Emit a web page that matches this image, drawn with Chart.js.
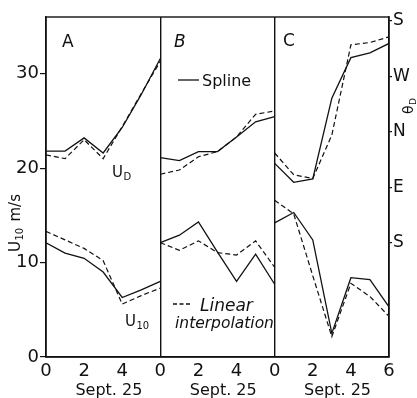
<!DOCTYPE html>
<html><head><meta charset="utf-8">
<script src="https://cdn.jsdelivr.net/npm/chart.js@4/dist/chart.umd.min.js"></script>
<style>html,body{margin:0;padding:0;background:#fff}canvas{display:block}</style>
</head><body><canvas id="c" width="417" height="398"></canvas>
<script>
// ---- data (days 0..6 within each panel) ----
const days = [0, 1, 2, 3, 4, 5, 6];
const panels = ['A', 'B', 'C'];

const udSplineA = [21.8, 21.8, 23.2, 21.6, 24.3, 27.8, 31.6];
const udLinearA = [21.4, 21.0, 23.0, 21.0, 24.4, 27.9, 31.3];
const u10SplineA = [12.1, 11.0, 10.45, 9.0, 6.3, 7.1, 8.0];
const u10LinearA = [13.3, 12.4, 11.5, 10.2, 5.6, 6.5, 7.3];

const udSplineB = [21.1, 20.8, 21.75, 21.75, 23.3, 24.9, 25.45];
const udLinearB = [19.35, 19.8, 21.2, 21.75, 23.3, 25.7, 26.05];
const u10SplineB = [12.1, 12.9, 14.3, 11.1, 8.0, 10.9, 7.7];
const u10LinearB = [12.1, 11.3, 12.3, 11.05, 10.8, 12.3, 9.5];

const udSplineC = [20.5, 18.5, 18.85, 27.4, 31.7, 32.2, 33.2];
const udLinearC = [21.6, 19.3, 18.9, 23.5, 33.05, 33.3, 33.9];
const u10SplineC = [14.2, 15.3, 12.4, 2.5, 8.4, 8.2, 5.3];
const u10LinearC = [16.6, 15.15, 8.6, 2.15, 7.8, 6.4, 4.3];

const xTickLabels = ['0', '2', '4', '0', '2', '4', '0', '2', '4', '6'];
const yTicks = [0, 10, 20, 30];
const dirTickValues = [0, 90, 180, 270, 360];
const dirTickLabels = ['S', 'E', 'N', 'W', 'S'];
const dateLabel = 'Sept. 25';

// ---- build datasets ----
const FONT = "'DejaVu Sans', sans-serif";
const seriesByPanel = [
  [udSplineA, udLinearA, u10SplineA, u10LinearA],
  [udSplineB, udLinearB, u10SplineB, u10LinearB],
  [udSplineC, udLinearC, u10SplineC, u10LinearC]
];
const datasets = [];
seriesByPanel.forEach((arrs, p) => {
  arrs.forEach((vals, k) => {
    const dashed = (k % 2) === 1;
    datasets.push({
      label: panels[p] + (dashed ? ' linear' : ' spline'),
      data: days.map((d, i) => ({ x: p * 6 + d, y: vals[i] })),
      borderColor: '#111',
      borderWidth: dashed ? 1.2 : 1.3,
      borderDash: dashed ? [5, 3] : [],
      pointRadius: 0,
      tension: 0,
      fill: false
    });
  });
});

function drawSub(ctx, base, sub, x, y, size, opts) {
  opts = opts || {};
  ctx.font = (opts.italic ? 'italic ' : '') + size + 'px ' + FONT;
  ctx.fillText(base, x, y);
  const w = ctx.measureText(base).width;
  ctx.font = (opts.italic ? 'italic ' : '') + Math.round(size * 0.65) + 'px ' + FONT;
  ctx.fillText(sub, x + w + 0.5, y + size * 0.18);
  return w + ctx.measureText(sub).width;
}

const decor = {
  id: 'decor',
  afterDatasetsDraw(chart) {
    const ctx = chart.ctx, a = chart.chartArea;
    ctx.save();
    ctx.strokeStyle = '#111';
    ctx.lineWidth = 1.4;
    ctx.setLineDash([]);
    ctx.strokeRect(a.left, a.top, a.right - a.left, a.bottom - a.top);
    ctx.fillStyle = '#111';
    ctx.textBaseline = 'alphabetic';
    ctx.textAlign = 'left';
    // panel letters
    ctx.font = '17px ' + FONT;
    ctx.fillText('A', 62, 47);
    ctx.font = 'italic 17px ' + FONT;
    ctx.fillText('B', 174, 47);
    ctx.font = '17px ' + FONT;
    ctx.fillText('C', 283, 46);
    // series labels
    drawSub(ctx, 'U', 'D', 112, 177, 15);
    drawSub(ctx, 'U', '10', 125, 326, 15);
    // legend
    ctx.lineWidth = 1.3;
    ctx.beginPath(); ctx.moveTo(178, 80); ctx.lineTo(199, 80); ctx.stroke();
    ctx.font = '16px ' + FONT;
    ctx.fillText('Spline', 202, 86);
    ctx.setLineDash([4, 2.5]);
    ctx.beginPath(); ctx.moveTo(173, 304); ctx.lineTo(192, 304); ctx.stroke();
    ctx.setLineDash([]);
    ctx.font = 'italic 17px ' + FONT;
    ctx.fillText('Linear', 200, 311);
    ctx.font = 'italic 15.5px ' + FONT;
    ctx.fillText('interpolation', 175, 328);
    // left axis title
    ctx.save();
    ctx.translate(20, 252);
    ctx.rotate(-Math.PI / 2);
    const w = drawSub(ctx, 'U', '10', 0, 0, 15);
    ctx.font = '15px ' + FONT;
    ctx.fillText(' m/s', w + 2, 0);
    ctx.restore();
    // right axis title
    ctx.save();
    ctx.translate(413, 114);
    ctx.rotate(-Math.PI / 2);
    drawSub(ctx, 'θ', 'D', 0, 0, 14);
    ctx.restore();
    ctx.restore();
  }
};

new Chart(document.getElementById('c'), {
  type: 'line',
  data: { datasets },
  plugins: [decor],
  options: {
    responsive: false,
    animation: false,
    devicePixelRatio: 1,
    layout: { padding: { top: 17, left: 0, right: 0, bottom: 0 } },
    plugins: { legend: { display: false }, tooltip: { enabled: false } },
    scales: {
      x: {
        type: 'linear', position: 'bottom', min: 0, max: 18, weight: 0,
        afterBuildTicks(s) { s.ticks = xTickLabels.map((_, i) => ({ value: i * 2 })); },
        afterFit(s) { s.height = 24; },
        ticks: {
          autoSkip: false, maxRotation: 0, padding: 4, color: '#111',
          font: { family: FONT, size: 18 },
          callback: (v, i) => xTickLabels[i]
        },
        grid: {
          drawTicks: false,
          color: c => (c.tick && (c.tick.value === 6 || c.tick.value === 12)) ? '#111' : 'rgba(0,0,0,0)',
          lineWidth: 1.4
        },
        border: { display: true, color: '#111', width: 1.4 }
      },
      x2: {
        type: 'linear', position: 'bottom', min: 0, max: 18, weight: 1,
        afterBuildTicks(s) { s.ticks = [{ value: 3.3 }, { value: 9.3 }, { value: 15.3 }]; },
        afterFit(s) { s.height = 17; },
        ticks: {
          autoSkip: false, maxRotation: 0, padding: 0, color: '#111',
          font: { family: FONT, size: 16 },
          callback: () => dateLabel
        },
        grid: { display: false, drawTicks: false },
        border: { display: false }
      },
      y: {
        type: 'linear', position: 'left', min: 0, max: 36,
        afterBuildTicks(s) { s.ticks = yTicks.map(v => ({ value: v })); },
        afterFit(s) { s.width = 46; },
        ticks: { padding: 1, color: '#111', font: { family: FONT, size: 18 } },
        grid: { drawOnChartArea: false, tickLength: 6, color: '#111', lineWidth: 1.2 },
        border: { display: true, color: '#111', width: 1.4 }
      },
      y2: {
        type: 'linear', position: 'right', min: -184.5, max: 365.8,
        afterBuildTicks(s) { s.ticks = dirTickValues.map(v => ({ value: v })); },
        afterFit(s) { s.width = 28; },
        ticks: {
          padding: 1, color: '#111', font: { family: FONT, size: 17 },
          callback: (v, i) => dirTickLabels[i]
        },
        grid: { drawOnChartArea: false, tickLength: 3, color: '#111', lineWidth: 1.2 },
        border: { display: true, color: '#111', width: 1.4 }
      }
    }
  }
});
</script>
</body></html>
